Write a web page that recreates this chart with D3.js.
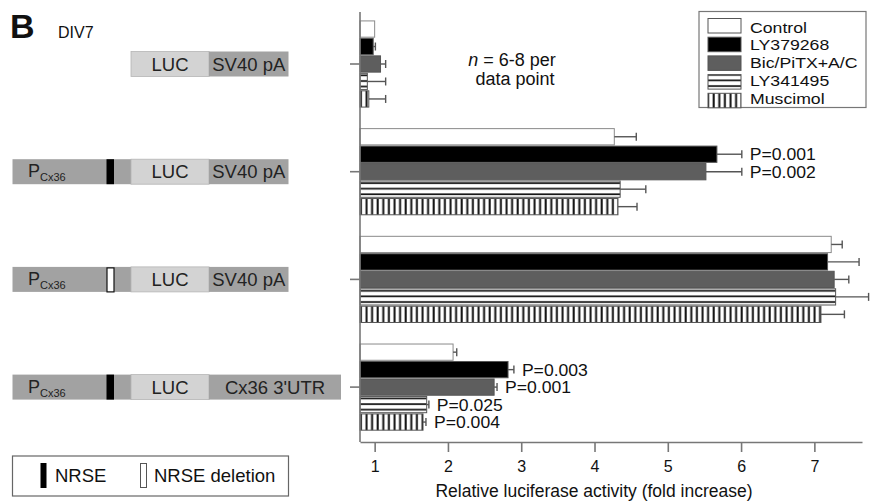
<!DOCTYPE html>
<html>
<head>
<meta charset="utf-8">
<script src="https://cdnjs.cloudflare.com/ajax/libs/d3/7.8.5/d3.min.js"></script>
<style>
  body { margin: 0; background: #fff; }
  svg { font-family: "Liberation Sans", Arial, sans-serif; }
</style>
</head>
<body>
<svg id="chart" width="872" height="504"></svg>
<script>
// constructs (rows) and treatments (bars in each row)
var groups = ["LUC-SV40", "PCx36-LUC-SV40", "PCx36del-LUC-SV40", "PCx36-LUC-UTR"];
var series = ["Control", "LY379268", "Bic/PiTX+A/C", "LY341495", "Muscimol"];

// fold increase, one value per construct
var control  = [1.00, 4.27, 7.23, 2.07];
var ly379268 = [0.98, 5.67, 7.18, 2.82];
var bic      = [1.08, 5.52, 7.27, 2.63];
var ly341495 = [0.90, 4.35, 7.29, 1.71];
var muscimol = [0.92, 4.32, 7.09, 1.66];

// error bar (SEM), one-sided
var errControl  = [0.00, 0.30, 0.15, 0.05];
var errLy379268 = [0.03, 0.34, 0.43, 0.08];
var errBic      = [0.07, 0.49, 0.20, 0.04];
var errLy341495 = [0.25, 0.35, 0.45, 0.03];
var errMuscimol = [0.23, 0.26, 0.32, 0.04];

// p values written next to the bars (group index, series index, text)
var pLabels = [
  [1, 1, "P=0.001"], [1, 2, "P=0.002"],
  [3, 1, "P=0.003"], [3, 2, "P=0.001"], [3, 3, "P=0.025"], [3, 4, "P=0.004"]
];
var xTicks = [1, 2, 3, 4, 5, 6, 7];

var means = [control, ly379268, bic, ly341495, muscimol];
var errs = [errControl, errLy379268, errBic, errLy341495, errMuscimol];

var rows = [];
groups.forEach(function(g, gi) {
  series.forEach(function(s, si) {
    rows.push({ group: g, gi: gi, series: s, si: si, value: means[si][gi], err: errs[si][gi] });
  });
});

var svg = d3.select("#chart");
var defs = svg.append("defs");

// stripes
var ph = defs.append("pattern").attr("id", "hstripe").attr("patternUnits", "userSpaceOnUse")
  .attr("width", 8).attr("height", 5.6);
ph.append("rect").attr("width", 8).attr("height", 5.6).attr("fill", "#fff");
ph.append("rect").attr("y", 1.2).attr("width", 8).attr("height", 1.7).attr("fill", "#111");

var pv = defs.append("pattern").attr("id", "vstripe").attr("patternUnits", "userSpaceOnUse")
  .attr("width", 5.6).attr("height", 8);
pv.append("rect").attr("width", 5.6).attr("height", 8).attr("fill", "#fff");
pv.append("rect").attr("x", 1.5).attr("width", 2).attr("height", 8).attr("fill", "#111");

var fills = {
  "Control": "#fff",
  "LY379268": "#000",
  "Bic/PiTX+A/C": "#5e5e5e",
  "LY341495": "url(#hstripe)",
  "Muscimol": "url(#vstripe)"
};

var x = d3.scaleLinear().domain([0.8, 7.65]).range([360, 862]);
var y0 = d3.scaleBand().domain(groups).range([10.15, 440.95]).paddingInner(0.2).paddingOuter(0.1);
var y1 = d3.scaleBand().domain(series).range([0, y0.bandwidth()]).paddingInner(0.07);

// bars
var bars = svg.append("g").selectAll("g").data(rows).enter().append("g")
  .attr("transform", function(d) { return "translate(0," + (y0(d.group) + y1(d.series)) + ")"; });

bars.append("rect")
  .attr("x", x(0.8))
  .attr("width", function(d) { return x(d.value) - x(0.8); })
  .attr("height", y1.bandwidth())
  .attr("fill", function(d) { return fills[d.series]; })
  .attr("stroke", function(d) { return d.si == 0 ? "#8a8a8a" : "#555"; })
  .attr("stroke-width", 1);

// error bars
var eb = bars.filter(function(d) { return d.err > 0; }).append("g").attr("stroke", "#555").attr("stroke-width", 1.4);
eb.append("line")
  .attr("x1", function(d) { return x(d.value); })
  .attr("x2", function(d) { return x(d.value + d.err); })
  .attr("y1", y1.bandwidth() / 2).attr("y2", y1.bandwidth() / 2);
eb.append("line")
  .attr("x1", function(d) { return x(d.value + d.err); })
  .attr("x2", function(d) { return x(d.value + d.err); })
  .attr("y1", y1.bandwidth() / 2 - 4).attr("y2", y1.bandwidth() / 2 + 4);

// p values (glyphs a bit wide, as in the figure)
svg.append("g").selectAll("text").data(pLabels).enter().append("text")
  .attr("x", function(d) { return x(means[d[1]][d[0]] + errs[d[1]][d[0]]) + 8; })
  .attr("y", function(d) { return y0(groups[d[0]]) + y1(series[d[1]]) + y1.bandwidth() / 2; })
  .attr("dy", "0.36em")
  .attr("font-size", 16.5)
  .attr("textLength", 66)
  .attr("lengthAdjust", "spacingAndGlyphs")
  .attr("fill", "#111")
  .text(function(d) { return d[2]; });

// axes
var yAxis = svg.append("g").attr("transform", "translate(360,0)")
  .call(d3.axisLeft(y0).tickSize(10).tickSizeOuter(0).tickFormat(""));
yAxis.selectAll("path, line").attr("stroke", "#777").attr("stroke-width", 1.6);
yAxis.select(".domain").attr("d", "M0,12V442");

var xAxis = svg.append("g").attr("transform", "translate(0,442)")
  .call(d3.axisBottom(x).tickValues(xTicks).tickFormat(d3.format("d")).tickSize(10).tickSizeOuter(0).tickPadding(9));
xAxis.selectAll("path, line").attr("stroke", "#777").attr("stroke-width", 1.6);
xAxis.selectAll("text").attr("font-size", 16).attr("fill", "#111").attr("font-family", "Liberation Sans, Arial");

svg.append("text").attr("x", 594).attr("y", 497).attr("text-anchor", "middle")
  .attr("font-size", 17.5).attr("fill", "#111").text("Relative luciferase activity (fold increase)");

// legend
var leg = svg.append("g");
leg.append("rect").attr("x", 699).attr("y", 11.5).attr("width", 167).attr("height", 96)
  .attr("fill", "#fff").attr("stroke", "#777").attr("stroke-width", 1.2);
leg.selectAll("rect.sw").data(series).enter().append("rect").attr("class", "sw")
  .attr("x", 708).attr("y", function(d, i) { return 18.5 + i * 18.7; })
  .attr("width", 33).attr("height", 14.5)
  .attr("fill", function(d) { return fills[d]; })
  .attr("stroke", "#555").attr("stroke-width", 1);
leg.selectAll("text").data(series).enter().append("text")
  .attr("x", 750).attr("y", function(d, i) { return 32.5 + i * 17.8; })
  .attr("font-size", 15.5).attr("fill", "#111").text(function(d) { return d; })
  .each(function() {
    // the figure's legend type is a bit wider than Arial
    d3.select(this).attr("textLength", this.getComputedTextLength() * 1.14)
      .attr("lengthAdjust", "spacingAndGlyphs");
  });

svg.append("text").attr("x", 512).attr("y", 66).attr("text-anchor", "middle")
  .attr("font-size", 18).attr("fill", "#111")
  .html('<tspan font-style="italic">n</tspan> = 6-8 per');
svg.append("text").attr("x", 515).attr("y", 85).attr("text-anchor", "middle")
  .attr("font-size", 18).attr("fill", "#111").text("data point");

// panel label
svg.append("text").attr("x", 10).attr("y", 38).attr("font-size", 34).attr("font-weight", "bold")
  .attr("fill", "#111").text("B");
svg.append("text").attr("x", 58).attr("y", 38).attr("font-size", 16).attr("fill", "#111").text("DIV7");

// construct diagrams, one per row
var constructs = [
  { promoter: false, nrse: null, tail: "SV40 pA" },
  { promoter: true, nrse: "NRSE", tail: "SV40 pA" },
  { promoter: true, nrse: "del", tail: "SV40 pA" },
  { promoter: true, nrse: "NRSE", tail: "Cx36 3'UTR" }
];
var boxH = 25;
constructs.forEach(function(c, i) {
  var cy = y0(groups[i]) + y0.bandwidth() / 2;
  var g = svg.append("g").attr("transform", "translate(0," + (cy - boxH / 2) + ")");
  if (c.promoter) {
    g.append("rect").attr("x", 12.5).attr("width", 119).attr("height", boxH).attr("fill", "#a2a2a2");
    var pt = g.append("text").attr("x", 28).attr("y", 18).attr("font-size", 18).attr("fill", "#222");
    pt.append("tspan").text("P");
    pt.append("tspan").attr("font-size", 11).attr("dy", 4).text("Cx36");
    if (c.nrse == "NRSE") {
      g.append("rect").attr("x", 106.5).attr("width", 7.5).attr("height", boxH).attr("fill", "#000");
    } else {
      g.append("rect").attr("x", 107).attr("y", 1).attr("width", 7).attr("height", boxH - 1)
        .attr("fill", "#fff").attr("stroke", "#111").attr("stroke-width", 1.2);
    }
  }
  g.append("rect").attr("x", 131).attr("width", 78).attr("height", boxH)
    .attr("fill", "#d3d3d3").attr("stroke", "#b5b5b5").attr("stroke-width", 0.8);
  g.append("text").attr("x", 170).attr("y", 19).attr("text-anchor", "middle")
    .attr("font-size", 18.5).attr("fill", "#222").text("LUC");
  var tw = c.tail == "SV40 pA" ? 79.5 : 132;
  g.append("rect").attr("x", 209).attr("width", tw).attr("height", boxH).attr("fill", "#a2a2a2");
  g.append("text").attr("x", 209 + tw / 2).attr("y", 19).attr("text-anchor", "middle")
    .attr("font-size", 18.5).attr("fill", "#222").text(c.tail);
});

// NRSE key
var key = svg.append("g");
key.append("rect").attr("x", 12.5).attr("y", 456).attr("width", 276).attr("height", 40)
  .attr("fill", "#fff").attr("stroke", "#666").attr("stroke-width", 1.2);
key.append("rect").attr("x", 40.5).attr("y", 463).attr("width", 6).attr("height", 25).attr("fill", "#000");
key.append("text").attr("x", 55).attr("y", 482).attr("font-size", 18.5).attr("fill", "#111").text("NRSE");
key.append("rect").attr("x", 140.5).attr("y", 463.5).attr("width", 6).attr("height", 24)
  .attr("fill", "#fff").attr("stroke", "#555").attr("stroke-width", 1);
key.append("text").attr("x", 154).attr("y", 482).attr("font-size", 18.5).attr("fill", "#111").text("NRSE deletion");
</script>
</body>
</html>
